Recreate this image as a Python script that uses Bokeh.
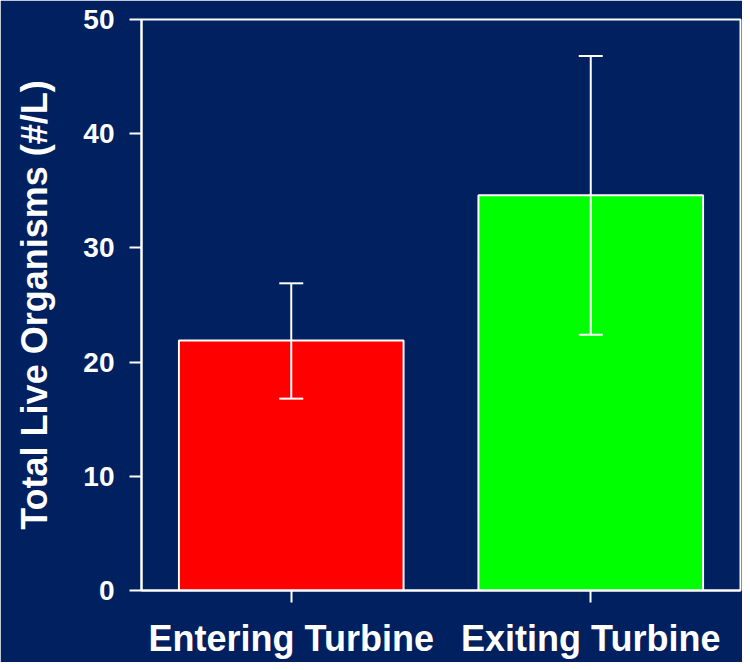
from bokeh.plotting import figure
from bokeh.models import ColumnDataSource, Whisker, TeeHead, FixedTicker
from bokeh.embed import file_html
from bokeh.resources import INLINE

categories = ["Entering Turbine", "Exiting Turbine"]
means = [21.9, 34.6]
upper = [26.9, 46.8]
lower = [16.8, 22.4]
colors = ["#FF0000", "#00FF00"]
y_ticks = [0, 10, 20, 30, 40, 50]

BG = "#00205F"
FONT = "Liberation Sans"

src = ColumnDataSource(dict(cat=categories, mean=means, upper=upper, lower=lower, color=colors))

p = figure(x_range=categories, y_range=(0, 50), width=742, height=662,
           output_backend="svg", toolbar_location=None,
           background_fill_color=BG, border_fill_color=BG,
           min_border_left=141, min_border_right=2, min_border_top=19, min_border_bottom=72)
p.x_range.range_padding = 0
p.outline_line_color = "white"
p.outline_line_width = 2
p.grid.visible = False

p.vbar(x="cat", top="mean", width=0.75, source=src, fill_color="color",
       line_color="white", line_width=2)

w = Whisker(base="cat", upper="upper", lower="lower", source=src,
            line_color="white", line_width=2, level="overlay",
            upper_head=TeeHead(size=24, line_color="white", line_width=2),
            lower_head=TeeHead(size=24, line_color="white", line_width=2))
p.add_layout(w)

for ax in (p.xaxis[0], p.yaxis[0]):
    ax.axis_line_color = "white"
    ax.axis_line_width = 2
    ax.major_tick_line_color = "white"
    ax.major_tick_line_width = 2
    ax.major_tick_out = 12
    ax.major_tick_in = 0
    ax.minor_tick_line_color = None
    ax.major_label_text_color = "white"
    ax.major_label_text_font = FONT
    ax.major_label_text_font_style = "bold"
    ax.axis_label_text_color = "white"
    ax.axis_label_text_font = FONT
    ax.axis_label_text_font_style = "bold"

p.yaxis.ticker = FixedTicker(ticks=y_ticks)
p.yaxis.major_label_text_font_size = "28px"
p.yaxis.major_label_standoff = 15
p.yaxis.axis_label = "Total Live Organisms (#/L)"
p.yaxis.axis_label_text_font_size = "36px"
p.yaxis.axis_label_standoff = 25

p.xaxis.major_label_text_font_size = "36px"
p.xaxis.major_label_standoff = 15

open("out.html", "w").write(file_html(p, INLINE))
